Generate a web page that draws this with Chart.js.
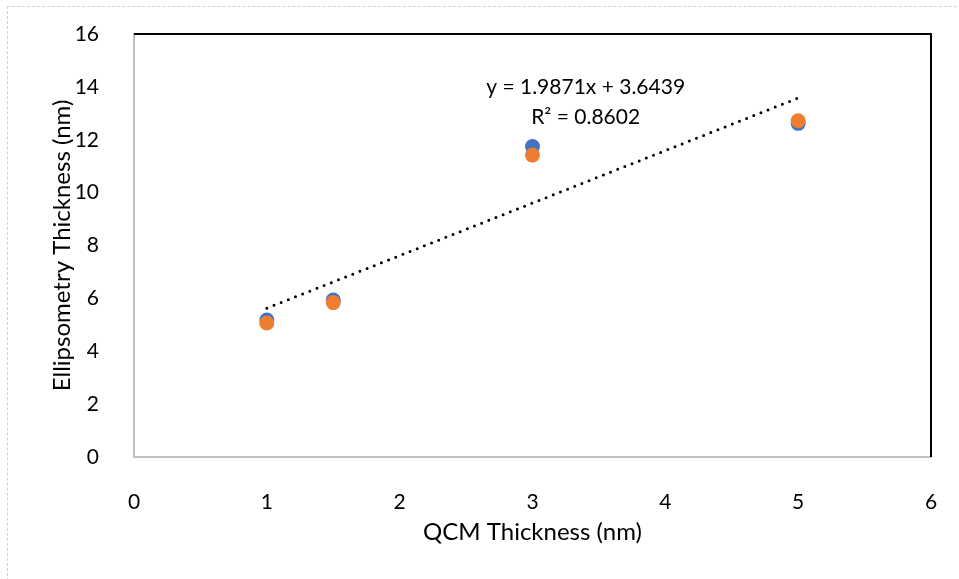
<!DOCTYPE html>
<html lang="en">
<head>
    <meta charset="UTF-8">
    <title>QCM vs Ellipsometry Thickness</title>
    <script src="https://cdn.jsdelivr.net/npm/chart.js"></script>
    <style>
        html, body { margin: 0; padding: 0; background: #fff; }
        .wrap { position: relative; width: 959px; height: 579px; }
        .frame {
            position: absolute; left: 7px; top: 6px; width: 980px; height: 600px;
            border: 1px dashed #d0d0d0; box-sizing: border-box;
        }
        canvas { position: absolute; left: 0; top: 0; }
    </style>
</head>
<body>
    <div class="wrap">
        <div class="frame"></div>
        <canvas id="chart" width="959" height="579"></canvas>
    </div>

    <script>
        // QCM thickness (x) and ellipsometry readings for the two runs
        const qcmThickness = [1, 1.5, 3, 5];
        const seriesBlue = [5.18, 5.94, 11.74, 12.62];
        const seriesOrange = [5.07, 5.84, 11.42, 12.72];

        // linear trendline of the blue series, as labelled on the chart
        const trendSlope = 1.9871;
        const trendIntercept = 3.6439;
        const trendLabel = ['y = 1.9871x + 3.6439', 'R² = 0.8602'];

        const xTicks = [0, 1, 2, 3, 4, 5, 6];
        const yTicks = [0, 2, 4, 6, 8, 10, 12, 14, 16];

        const FONT = "Lato, 'Liberation Sans', sans-serif";

        const toPoints = (xs, ys) => xs.map((x, i) => ({ x: x, y: ys[i] }));
        const xMin = Math.min(...qcmThickness);
        const xMax = Math.max(...qcmThickness);
        const trendPoints = [
            { x: xMin, y: trendSlope * xMin + trendIntercept },
            { x: xMax, y: trendSlope * xMax + trendIntercept }
        ];

        // black top/right border of the plot area + trendline equation text
        const plotDecor = {
            id: 'plotDecor',
            afterDraw(chart) {
                const { ctx, chartArea: a, scales } = chart;
                ctx.save();
                ctx.strokeStyle = '#000';
                ctx.lineWidth = 2;
                ctx.beginPath();
                ctx.moveTo(a.left, a.top);
                ctx.lineTo(a.right, a.top);
                ctx.lineTo(a.right, a.bottom);
                ctx.stroke();

                ctx.fillStyle = '#000';
                ctx.font = '21px ' + FONT;
                ctx.textAlign = 'center';
                ctx.textBaseline = 'middle';
                const cx = scales.x.getPixelForValue(3.4);
                const cy = scales.y.getPixelForValue(14.0);
                ctx.fillText(trendLabel[0], cx, cy);
                ctx.fillText(trendLabel[1], cx, cy + 30);
                ctx.restore();
            }
        };

        const ctx = document.getElementById('chart').getContext('2d');
        new Chart(ctx, {
            type: 'scatter',
            data: {
                datasets: [
                    {
                        label: 'Trendline',
                        type: 'line',
                        data: trendPoints,
                        borderColor: '#000',
                        borderWidth: 3,
                        borderDash: [0, 7.7],
                        borderCapStyle: 'round',
                        pointRadius: 0,
                        fill: false,
                        order: 0
                    },
                    {
                        label: 'Run 2',
                        data: toPoints(qcmThickness, seriesOrange),
                        backgroundColor: '#ED7D31',
                        borderColor: '#ED7D31',
                        pointRadius: 7.5,
                        borderWidth: 0,
                        order: 1
                    },
                    {
                        label: 'Run 1',
                        data: toPoints(qcmThickness, seriesBlue),
                        backgroundColor: '#4472C4',
                        borderColor: '#4472C4',
                        pointRadius: 7.5,
                        borderWidth: 0,
                        order: 2
                    }
                ]
            },
            options: {
                responsive: false,
                animation: false,
                layout: { padding: { left: 44, top: 34, right: 28, bottom: 28 } },
                plugins: {
                    legend: { display: false },
                    tooltip: { enabled: false }
                },
                scales: {
                    x: {
                        type: 'linear',
                        min: 0,
                        max: 6,
                        afterBuildTicks: (s) => { s.ticks = xTicks.map(v => ({ value: v })); },
                        afterFit: (s) => {
                            s.height = 94;
                            s.paddingLeft = 10;
                            s.paddingRight = 10;
                        },
                        grid: { display: false },
                        border: { display: true, color: '#BFBFBF', width: 2 },
                        ticks: { color: '#000', padding: 25, font: { family: FONT, size: 21 } },
                        title: {
                            display: true,
                            text: 'QCM Thickness (nm)',
                            color: '#000',
                            font: { family: FONT, size: 24 },
                            padding: { top: 4, bottom: 4 }
                        }
                    },
                    y: {
                        type: 'linear',
                        min: 0,
                        max: 16,
                        afterBuildTicks: (s) => { s.ticks = yTicks.map(v => ({ value: v })); },
                        afterFit: (s) => {
                            s.width = 90;
                            s.paddingTop = 10;
                            s.paddingBottom = 10;
                        },
                        grid: { display: false },
                        border: { display: true, color: '#BFBFBF', width: 2 },
                        ticks: { color: '#000', padding: 27, font: { family: FONT, size: 21 } },
                        title: {
                            display: true,
                            text: 'Ellipsometry Thickness (nm)',
                            color: '#000',
                            font: { family: FONT, size: 24 },
                            padding: { top: 4, bottom: 4 }
                        }
                    }
                }
            },
            plugins: [plotDecor]
        });
    </script>
</body>
</html>
